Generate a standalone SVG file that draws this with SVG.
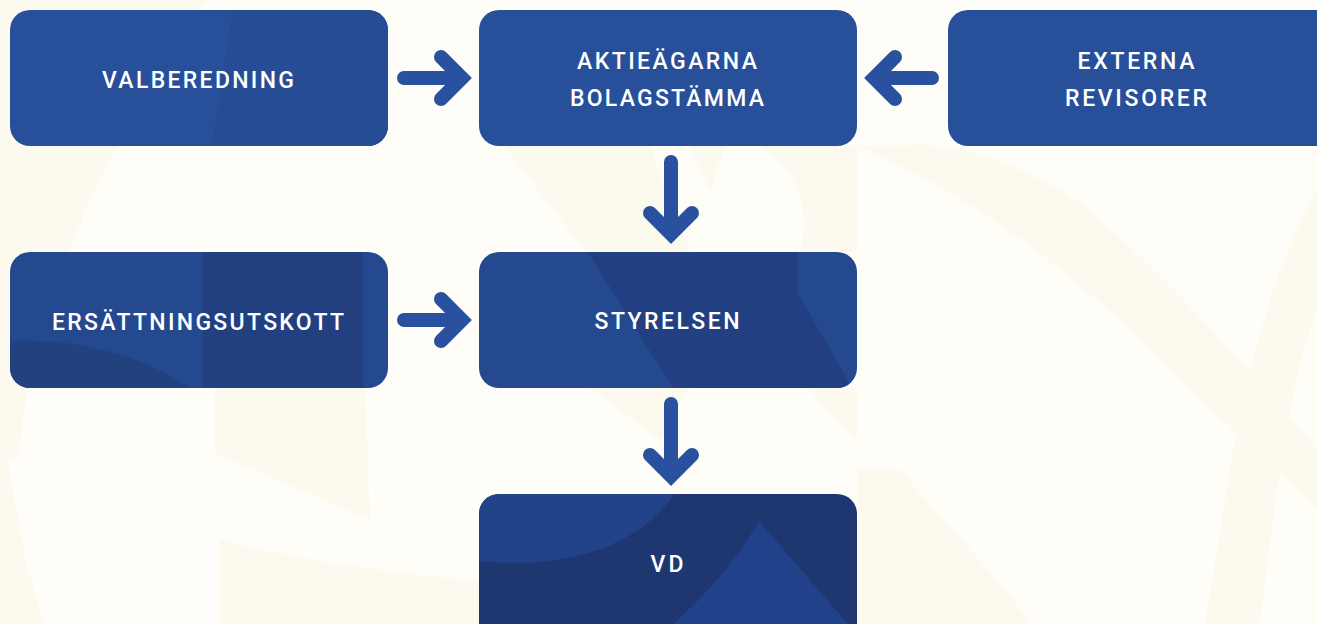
<svg xmlns="http://www.w3.org/2000/svg" width="1317" height="624" viewBox="0 0 1317 624">
  <defs>
    <style>
      .box { fill: #274F9A; }
      .mid { fill: #24498F; }
      .lbl { font-family: Roboto, "Liberation Sans", sans-serif; font-weight: 500; font-size: 23px; fill: #FFFFFF; text-anchor: middle; }
      .conn { fill: none; stroke: #2A51A0; stroke-width: 14; stroke-linecap: round; stroke-linejoin: miter; stroke-miterlimit: 4; }
      .white { fill: #FEFDF9; }
      .cream { fill: #FCFAEE; }
    </style>
    <clipPath id="c-val"><rect x="10" y="10" width="378" height="136" rx="20"/></clipPath>
    <clipPath id="c-ers"><rect x="10" y="252" width="378" height="136" rx="20"/></clipPath>
    <clipPath id="c-sty"><rect x="479" y="252" width="378" height="136" rx="20"/></clipPath>
    <clipPath id="c-vd"><rect x="479" y="494" width="378" height="150" rx="20"/></clipPath>
  </defs>

  <g id="background">
    <rect x="0" y="0" width="1317" height="624" fill="#FEFDF8"/>
    <path class="cream" d="M0,0 H205 C120,120 30,300 20,450 C10,520 30,580 45,624 H0 Z"/>
    <path class="cream" d="M8,460 C60,450 150,490 215,540 L220,624 H45 C30,570 15,510 8,460 Z" style="fill:#FEFDF9"/>
    <path class="cream" d="M215,388 H365 L370,520 C320,500 260,470 215,455 Z"/>
    <path class="cream" d="M220,540 C300,560 400,575 479,580 V624 H220 Z"/>
    <path class="cream" d="M505,146 L585,252 H690 L650,146 Z"/>
    <path class="cream" d="M690,146 L710,190 L725,146 Z"/>
    <path class="cream" d="M760,146 C800,170 810,210 800,252 H857 V146 Z"/>
    <path class="cream" d="M590,388 L690,388 L660,440 Z"/>
    <path class="cream" d="M808,388 H857 V440 Z"/>
    <path class="cream" d="M857,146 C960,190 1060,260 1150,350 C1220,420 1280,470 1317,510 V450 C1260,380 1180,290 1090,210 C1020,160 950,140 900,146 Z"/>
    <path class="cream" d="M1317,190 C1270,270 1240,400 1225,500 L1205,624 H1260 C1275,500 1290,380 1317,310 Z"/>
    <path class="cream" d="M900,470 C960,540 1010,590 1030,624 H857 V470 Z"/>
  </g>

  <g id="connectors">
    <path class="conn" d="M404,78 H462 M441,57 L462,78 L441,99"/>
    <path class="conn" d="M932,78 H874 M895,57 L874,78 L895,99"/>
    <path class="conn" d="M671,162 V234 M650,213 L671,234 L692,213"/>
    <path class="conn" d="M404,320 H462 M441,299 L462,320 L441,341"/>
    <path class="conn" d="M671,404 V476 M650,455 L671,476 L692,455"/>
  </g>

  <g id="node-valberedning">
    <rect class="box" x="10" y="10" width="378" height="136" rx="20"/>
    <path clip-path="url(#c-val)" fill="#264C95" d="M233,10 H388 V146 H212 Z"/>
    <text class="lbl" x="198" y="88" textLength="192" lengthAdjust="spacing">VALBEREDNING</text>
  </g>

  <g id="node-aktieagarna">
    <rect class="box" x="479" y="10" width="378" height="136" rx="20"/>
    <text class="lbl" x="667" y="69" textLength="180" lengthAdjust="spacing">AKTIEÄGARNA</text>
    <text class="lbl" x="667" y="106" textLength="194" lengthAdjust="spacing">BOLAGSTÄMMA</text>
  </g>

  <g id="node-externa">
    <rect class="box" x="948" y="10" width="390" height="136" rx="20"/>
    <text class="lbl" x="1136" y="69" textLength="117" lengthAdjust="spacing">EXTERNA</text>
    <text class="lbl" x="1136" y="106" textLength="142" lengthAdjust="spacing">REVISORER</text>
  </g>

  <g id="node-ersattningsutskott">
    <rect class="mid" x="10" y="252" width="378" height="136" rx="20"/>
    <g clip-path="url(#c-ers)">
      <rect x="203" y="252" width="160" height="136" fill="#223F80"/>
      <path fill="#22417F" d="M10,341 C80,338 140,355 190,388 H10 Z"/>
    </g>
    <text class="lbl" x="198" y="330" textLength="292" lengthAdjust="spacing">ERSÄTTNINGSUTSKOTT</text>
  </g>

  <g id="node-styrelsen">
    <rect class="mid" x="479" y="252" width="378" height="136" rx="20"/>
    <path clip-path="url(#c-sty)" fill="#223F81" d="M588,252 H798 V293 L852,388 H673 Z"/>
    <text class="lbl" x="667" y="329" textLength="145" lengthAdjust="spacing">STYRELSEN</text>
  </g>

  <g id="node-vd">
    <rect x="479" y="494" width="378" height="150" rx="20" fill="#1E3770"/>
    <g clip-path="url(#c-vd)">
      <path fill="#22428A" d="M479,494 H674 C640,545 570,570 479,561 Z"/>
      <path fill="#21418A" d="M759,521 C730,570 700,600 673,624 H848 Z"/>
    </g>
    <text class="lbl" x="667" y="572" textLength="33" lengthAdjust="spacing">VD</text>
  </g>
</svg>
